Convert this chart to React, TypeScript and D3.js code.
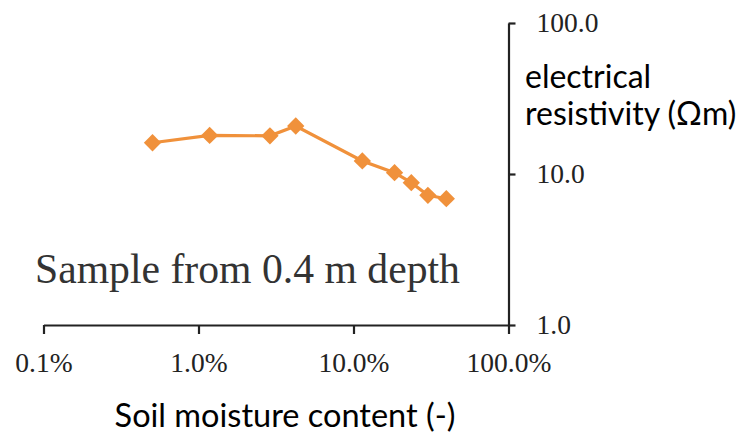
import React, { useEffect, useRef } from "react";
import * as d3 from "d3";

const moisture = [0.505, 1.18, 2.89, 4.24, 11.4, 18.4, 23.6, 30.2, 39.7];
const resistivity = [16.1, 18.0, 17.9, 20.8, 12.2, 10.2, 8.76, 7.22, 6.86];
const xTicks = [0.1, 1, 10, 100];
const xTickLabels = ["0.1%", "1.0%", "10.0%", "100.0%"];
const yTicks = [1, 10, 100];
const yTickLabels = ["1.0", "10.0", "100.0"];
const xTitle = "Soil moisture content (-)";
const yTitleLines = ["electrical", "resistivity (\u03A9m)"];
const annotation = "Sample from 0.4 m depth";

const W = 744;
const H = 433;
const SERIF = "'Liberation Serif', 'Times New Roman', serif";
const SANS = "Lato, 'Open Sans', sans-serif";
const ORANGE = "#F0913B";

export default function App() {
  const xRef = useRef<SVGGElement>(null);
  const yRef = useRef<SVGGElement>(null);

  const x = d3.scaleLog().domain([0.1, 100]).range([43.5, 508.5]);
  const y = d3.scaleLog().domain([1, 100]).range([325, 23]);

  useEffect(() => {
    const xa = d3
      .axisBottom(x)
      .tickValues(xTicks)
      .tickSizeInner(9)
      .tickSizeOuter(0)
      .tickPadding(18)
      .tickFormat((d, i) => xTickLabels[i]);
    const gx = d3.select(xRef.current!);
    gx.call(xa as any);
    gx.select(".domain").attr("stroke", "#222").attr("stroke-width", 2.2);
    gx.selectAll(".tick line").attr("stroke", "#222").attr("stroke-width", 2.2);
    gx.selectAll(".tick text")
      .attr("fill", "#222")
      .style("font-family", SERIF)
      .style("font-size", "27.5px");

    const ya = d3
      .axisRight(y)
      .tickValues(yTicks)
      .tickSizeInner(7)
      .tickSizeOuter(0)
      .tickPadding(21)
      .tickFormat((d, i) => yTickLabels[i]);
    const gy = d3.select(yRef.current!);
    gy.call(ya as any);
    gy.select(".domain").attr("stroke", "#222").attr("stroke-width", 2.2);
    gy.selectAll(".tick line").attr("stroke", "#222").attr("stroke-width", 2.2);
    gy.selectAll(".tick text")
      .attr("fill", "#222")
      .style("font-family", SERIF)
      .style("font-size", "27.5px");
  }, []);

  const pts = moisture.map((m, i) => [x(m), y(resistivity[i])] as [number, number]);
  const line = d3.line()(pts) || "";
  const sym = d3.symbol().type(d3.symbolSquare).size(150)() || "";

  return (
    <svg
      width={W}
      height={H}
      style={{ position: "absolute", left: 0, top: 0, background: "#fff" }}
    >
      <rect width={W} height={H} fill="#fff" />
      <g ref={xRef} transform={`translate(0,${y(1)})`} />
      <g ref={yRef} transform={`translate(${x(100)},0)`} />
      <path d={line} fill="none" stroke={ORANGE} strokeWidth={3.2} />
      {pts.map((p, i) => (
        <path
          key={i}
          d={sym}
          transform={`translate(${p[0]},${p[1]}) rotate(45)`}
          fill={ORANGE}
        />
      ))}
      <text
        x={35}
        y={283}
        style={{ fontFamily: SERIF, fontSize: "41.7px" }}
        fill="#333"
      >
        {annotation}
      </text>
      <text
        x={285}
        y={427}
        textAnchor="middle"
        style={{ fontFamily: SANS, fontSize: "32.5px" }}
        fill="#000"
      >
        {xTitle}
      </text>
      {yTitleLines.map((t, i) => (
        <text
          key={i}
          x={525}
          y={88 + i * 37}
          style={{ fontFamily: SANS, fontSize: "32px" }}
          fill="#000"
        >
          {t}
        </text>
      ))}
    </svg>
  );
}
